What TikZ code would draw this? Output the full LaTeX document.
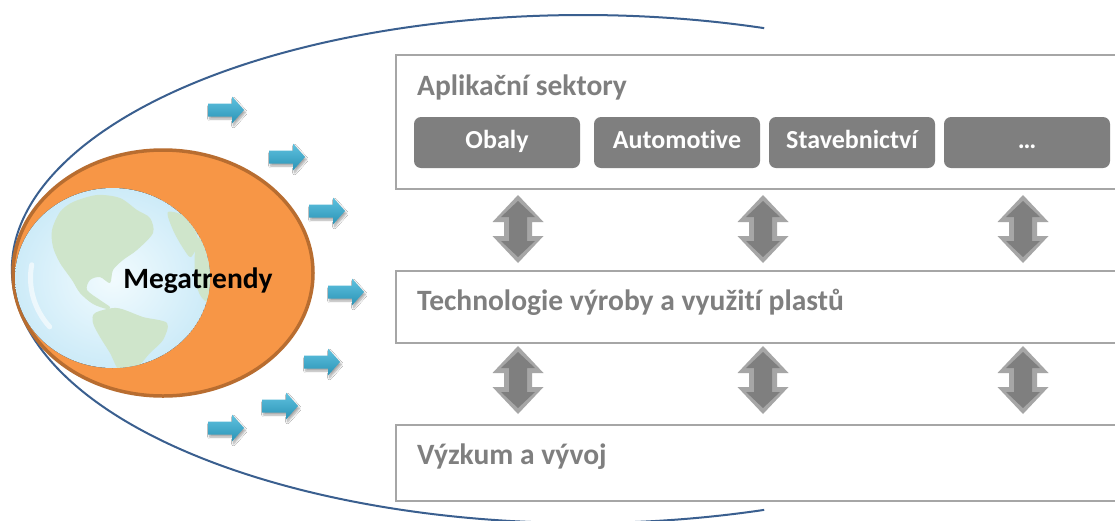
\documentclass[tikz,border=0pt]{standalone}
\usepackage{fontspec}
\setmainfont{Carlito}[Ligatures={NoCommon,NoContextual}]
\usetikzlibrary{shadows.blur,shapes.geometric}
\definecolor{ringblue}{HTML}{3A5F8F}
\definecolor{orfill}{HTML}{F79646}
\definecolor{ordraw}{HTML}{B86D30}
\definecolor{panelgray}{HTML}{A6A6A6}
\definecolor{textgray}{HTML}{7F7F7F}
\definecolor{sectorgray}{HTML}{7F7F7F}
\definecolor{arrowtop}{HTML}{5FC2DF}
\definecolor{arrowbot}{HTML}{2B93B6}
\definecolor{globeIn}{HTML}{F2FBFE}
\definecolor{globeOut}{HTML}{CDEBF8}
\definecolor{land}{HTML}{CFE5CB}
\tikzset{
  panel/.style={draw=panelgray, line width=2pt, fill=white, anchor=north west, inner sep=0pt},
  paneltitle/.style={anchor=base west, text=textgray, font=\fontsize{29.5}{33}\selectfont\bfseries, inner sep=0pt},
  sector/.style={fill=sectorgray, rounded corners=7pt, minimum width=166pt, minimum height=51pt,
    text=white, font=\fontsize{26}{30}\selectfont\bfseries, text height=18pt, text depth=6pt, inner sep=0pt},
  landmass/.style={fill=land},
  bluearrow/.pic={
    \path[top color=arrowtop, bottom color=arrowbot,
      blur shadow={shadow xshift=1.5pt, shadow yshift=-2.5pt, shadow blur steps=6, shadow opacity=35}]
      (-18,-6.5) -- (6,-6.5) -- (6,-13.5) -- (18,0) -- (6,13.5) -- (6,6.5) -- (-18,6.5) -- cycle;
  },
  dblarrow/.pic={
    \fill[panelgray] (0,-34) -- (25.5,-7) -- (14,-7) -- (14,7) -- (25.5,7) -- (0,34)
      -- (-25.5,7) -- (-14,7) -- (-14,-7) -- (-25.5,-7) -- cycle;
    \fill[sectorgray] (0,-28) -- (17,-12) -- (9,-12) -- (9,12) -- (17,12) -- (0,28)
      -- (-17,12) -- (-9,12) -- (-9,-12) -- (-17,-12) -- cycle;
  }
}
\begin{document}
\begin{tikzpicture}[x=1pt,y=-1pt]
\useasboundingbox (0,0) rectangle (1115,520);
\fill[white] (0,0) rectangle (1115,520);

% big outer arc
\coordinate (arcstart) at ({583+571*cos(71.5)},{269+254*sin(71.5)});
\draw[ringblue, line width=2pt] (arcstart) arc[start angle=71.5, end angle=288.5, x radius=571, y radius=254];

% orange ellipse
\node[draw=ordraw, fill=orfill, line width=3.5pt, shape=ellipse, minimum width=300pt, minimum height=246pt, inner sep=0pt] (mega) at (163,273) {};

% globe
\begin{scope}
  \clip (112.5,278) ellipse[x radius=97.5, y radius=90];
  \fill[inner color=globeIn, outer color=globeOut] (112.5,278) ellipse[x radius=97.5, y radius=90];
  % North America
  \fill[landmass] plot[smooth cycle, tension=0.5] coordinates {
    (60,212) (73,202) (97,195) (120,198) (137,210) (150,218) (153,233) (137,250)
    (123,260) (113,270) (110,283) (100,277) (90,280) (87,290) (100,300) (110,307)
    (107,309) (93,304) (80,293) (72,280) (60,263) (53,247) (52,230)};
  % Greenland
  \fill[landmass] plot[smooth cycle, tension=0.5] coordinates {
    (168,212) (188,218) (198,240) (191,257) (183,248) (173,230)};
  % Europe / Africa edge
  \fill[landmass] plot[smooth cycle, tension=0.5] coordinates {
    (196,242) (206,236) (214,250) (214,300) (202,298) (195,278)};
  % South America
  \fill[landmass] plot[smooth cycle, tension=0.5] coordinates {
    (95,313) (117,308) (143,317) (167,323) (163,340) (150,353) (137,367)
    (120,371) (110,353) (100,337) (93,323)};
  % highlight
  \draw[white, opacity=0.6, line width=5pt, line cap=round] ({112.5+82*cos(140)},{278+76*sin(140)}) arc[start angle=140, end angle=190, x radius=82, y radius=76];
\end{scope}
\node[anchor=base, font=\fontsize{29.5}{33}\selectfont\bfseries, text=black, inner sep=0pt] (megaT) at (198,288) {Megatrendy};

% panels
\node[panel, minimum width=722pt, minimum height=134pt] (apl) at (395,54) {};
\node[paneltitle] (aplT) at (417,95) {Aplikační sektory};
\node[sector] (s1) at (497,142.5) {Obaly};
\node[sector] (s2) at (677,142.5) {Automotive};
\node[sector] (s3) at (852,142.5) {Stavebnictví};
\node[sector] (s4) at (1027,142.5) {…};

\node[panel, minimum width=722pt, minimum height=72pt] (tech) at (395,270) {};
\node[paneltitle] (techT) at (417,310) {Technologie výroby a využití plastů};

\node[panel, minimum width=722pt, minimum height=76pt] (vyz) at (395,424) {};
\node[paneltitle] (vyzT) at (417,464) {Výzkum a vývoj};

% double arrows
\foreach \x in {518,763,1023}{
  \pic at (\x,229) {dblarrow};
  \pic at (\x,380) {dblarrow};
}

% blue arrows
\foreach \x/\y in {226/110, 287/157, 327/211, 346/292, 322/362, 280/406, 226/428}{
  \pic at (\x,\y) {bluearrow};
}
\end{tikzpicture}
\end{document}
